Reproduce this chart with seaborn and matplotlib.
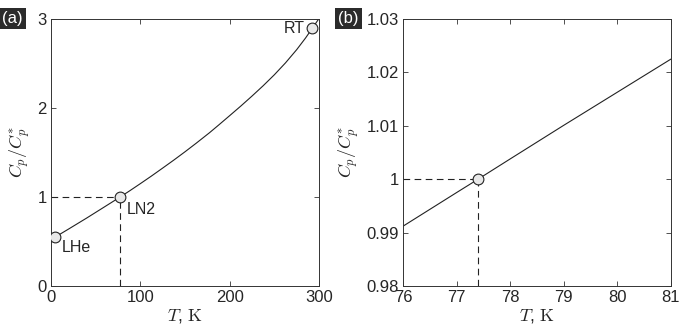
import numpy as np
import pandas as pd
import seaborn as sns
import matplotlib.pyplot as plt

# heat capacity ratio
T_a = [4.2, 20, 40, 60, 77.4, 88, 100, 112.5, 125, 137.5, 150, 162.5, 177.4, 187.5, 200,
       212.5, 225, 237.5, 250, 262.5, 275, 285, 292.4, 300]
cp_a = [0.547, 0.642, 0.764, 0.890, 1.0, 1.069, 1.150, 1.236, 1.325, 1.415, 1.508, 1.604,
        1.722, 1.807, 1.914, 2.022, 2.134, 2.250, 2.373, 2.507, 2.655, 2.787, 2.894, 3.005]

T_b = [76, 77, 77.4, 78, 79, 80, 81]
cp_b = [0.9912, 0.9975, 1.0, 1.0038, 1.0101, 1.0163, 1.0225]

# marked points
pt_T = [4.2, 77.4, 292.4]
pt_cp = [0.547, 1.0, 2.894]
pt_names = ["LHe", "LN2", "RT"]

sns.set_style("ticks")
plt.rcParams['font.family'] = ['Liberation Sans', 'DejaVu Sans']
plt.rcParams['mathtext.fontset'] = 'cm'
plt.rcParams['xtick.direction'] = 'in'
plt.rcParams['ytick.direction'] = 'in'
plt.rcParams['xtick.top'] = True
plt.rcParams['ytick.right'] = True

fig = plt.figure(figsize=(6.81, 3.34), dpi=100)
ax1 = fig.add_axes([0.0749, 0.1437, 0.3935, 0.7994])
ax2 = fig.add_axes([0.5918, 0.1437, 0.3935, 0.7994])

df_a = pd.DataFrame({"T": T_a, "cp": cp_a})
df_b = pd.DataFrame({"T": T_b, "cp": cp_b})
df_pt = pd.DataFrame({"T": pt_T, "cp": pt_cp, "name": pt_names})

dash = dict(color='#222222', lw=0.8, dashes=(6, 4))
mk = dict(s=60, color='#e8e8e8', edgecolor='#222222', linewidth=0.8, zorder=5)

# (a)
ax1.plot([0, pt_T[1]], [1, 1], **dash)
ax1.plot([pt_T[1], pt_T[1]], [0, 1], **dash)
sns.lineplot(data=df_a, x="T", y="cp", ax=ax1, color='#222222', lw=0.8, sort=False, estimator=None)
sns.scatterplot(data=df_pt, x="T", y="cp", ax=ax1, legend=False, **mk)
offs = {"LHe": (7, -3, 'left', 'top'), "LN2": (7, -5, 'left', 'top'), "RT": (-7, 0, 'right', 'center')}
for _, r in df_pt.iterrows():
    dx, dy, ha, va = offs[r["name"]]
    ax1.annotate(r["name"], (r["T"], r["cp"]), xytext=(dx, dy), textcoords='offset pixels',
                 ha=ha, va=va, fontsize=11.5)
ax1.set_xlim(0, 300)
ax1.set_ylim(0, 3)
ax1.set_xticks([0, 100, 200, 300])
ax1.set_yticks([0, 1, 2, 3])

# (b)
ax2.plot([76, pt_T[1]], [1, 1], **dash)
ax2.plot([pt_T[1], pt_T[1]], [0.98, 1], **dash)
sns.lineplot(data=df_b, x="T", y="cp", ax=ax2, color='#222222', lw=0.8, sort=False, estimator=None)
sns.scatterplot(x=[pt_T[1]], y=[pt_cp[1]], ax=ax2, legend=False, **mk)
ax2.set_xlim(76, 81)
ax2.set_ylim(0.98, 1.03)
ax2.set_xticks([76, 77, 78, 79, 80, 81])
ax2.set_yticks([0.98, 0.99, 1.0, 1.01, 1.02, 1.03])
ax2.set_yticklabels(["0.98", "0.99", "1", "1.01", "1.02", "1.03"])

for ax in (ax1, ax2):
    ax.set_xlabel(r"$T$, $\mathrm{K}$", fontsize=13, labelpad=1)
    ax.set_ylabel(r"$C_p/C_p^{*}$", fontsize=13, labelpad=4)
    ax.tick_params(labelsize=12, length=3.5, width=0.6, color='#333333', pad=3)
    for s in ax.spines.values():
        s.set_linewidth(0.7)
        s.set_color('#333333')

box = dict(boxstyle='square,pad=0.2', facecolor='#2b2b2b', edgecolor='none')
fig.text(0.003, 0.945, "(a)", color='white', fontsize=12, ha='left', va='center', bbox=box)
fig.text(0.497, 0.945, "(b)", color='white', fontsize=12, ha='left', va='center', bbox=box)

fig.savefig("out.png", dpi=100)
